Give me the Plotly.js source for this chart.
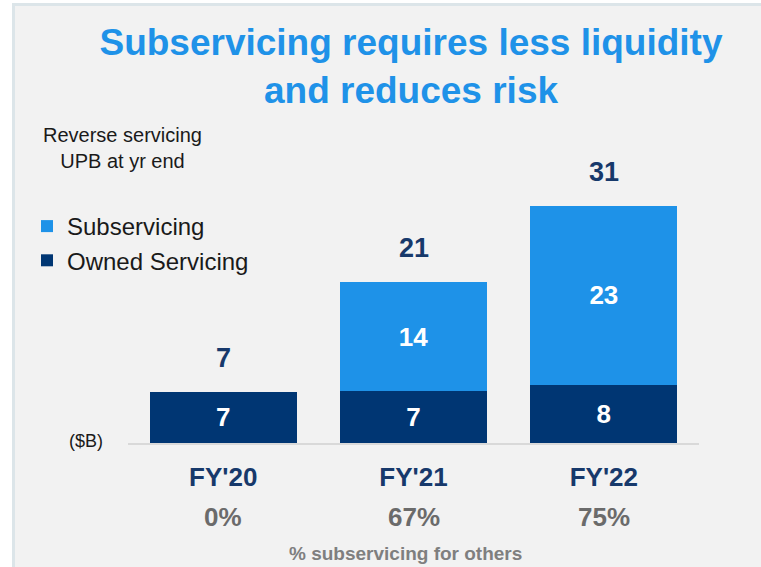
<!DOCTYPE html>
<html>
<head>
<meta charset="utf-8">
<script src="https://cdn.plot.ly/plotly-3.0.1.min.js"></script>
<style>html,body{margin:0;padding:0;background:#fff;}#chart{width:761px;height:567px;}</style>
</head>
<body>
<div id="chart"></div>
<script>
// ---- data ----
const years = ["FY'20", "FY'21", "FY'22"];
const owned = [6.7, 6.8, 7.6];          // Owned Servicing, $B
const subservicing = [0, 14.2, 23.4];   // Subservicing, $B
const pctLabels = ["0%", "67%", "75%"]; // % subservicing for others

const NAVY = '#003673';
const BLUE = '#1e92e8';
const LABEL_NAVY = '#17396b';
const FONT = 'Liberation Sans, Arial, sans-serif';

const totals = owned.map((v, i) => v + subservicing[i]);

const traces = [
  {
    type: 'bar', name: 'Owned Servicing', x: years, y: owned,
    marker: {color: NAVY},
    text: owned.map(v => v > 0 ? String(Math.round(v)) : ''),
    textposition: 'inside', insidetextanchor: 'middle',
    textfont: {family: FONT, size: 26, color: '#ffffff', weight: 'bold'},
    hoverinfo: 'none', legendrank: 2
  },
  {
    type: 'bar', name: 'Subservicing', x: years, y: subservicing,
    marker: {color: BLUE},
    text: subservicing.map(v => v > 0 ? String(Math.round(v)) : ''),
    textposition: 'inside', insidetextanchor: 'middle',
    textfont: {family: FONT, size: 26, color: '#ffffff', weight: 'bold'},
    hoverinfo: 'none', legendrank: 1
  }
];

const ML = 128, MR = 62, MT = 130, MB = 124;
const PH = 567 - MT - MB;
const PW = 761 - ML - MR;

const annotations = [];
years.forEach((yr, i) => {
  annotations.push({
    x: yr, y: totals[i], xref: 'x', yref: 'y', text: String(Math.round(totals[i])),
    showarrow: false, yanchor: 'middle', yshift: 34,
    font: {family: FONT, size: 27, color: LABEL_NAVY, weight: 'bold'}
  });
  annotations.push({
    x: yr, y: (443 - 517) / PH, xref: 'x', yref: 'paper', yanchor: 'middle',
    text: pctLabels[i], showarrow: false,
    font: {family: FONT, size: 26, color: '#6b6b6b', weight: 'bold'}
  });
});

annotations.push({
  text: 'Reverse servicing<br>UPB at yr end', xref: 'paper', yref: 'paper',
  x: (122 - ML) / PW, y: (443 - 148) / PH, xanchor: 'center', yanchor: 'middle',
  showarrow: false, align: 'center',
  font: {family: FONT, size: 20, color: '#1a1a1a'}
});
annotations.push({
  text: '($B)', xref: 'paper', yref: 'paper',
  x: (86 - ML) / PW, y: (443 - 441) / PH, xanchor: 'center', yanchor: 'middle',
  showarrow: false, font: {family: FONT, size: 18, color: '#1a1a1a'}
});
annotations.push({
  text: '% subservicing for others', xref: 'paper', yref: 'paper',
  x: (405 - ML) / PW, y: (443 - 553) / PH, xanchor: 'center', yanchor: 'middle',
  showarrow: false, font: {family: FONT, size: 19, color: '#7f7f7f', weight: 'bold'}
});

const layout = {
  width: 761, height: 567,
  margin: {l: ML, r: MR, t: MT, b: MB, pad: 0},
  paper_bgcolor: '#ffffff', plot_bgcolor: 'rgba(0,0,0,0)',
  barmode: 'stack', bargap: 0.228,
  title: {
    text: 'Subservicing requires less liquidity<br>and reduces risk',
    xref: 'container', yref: 'container', x: 411 / 761, xanchor: 'center',
    y: 1 - 55 / 567, yanchor: 'top',
    font: {family: FONT, size: 37, color: '#1f92e8', weight: 'bold'}
  },
  xaxis: {
    type: 'category', range: [-0.5, 2.5], fixedrange: true,
    showline: true, linecolor: '#d9d9d9', linewidth: 2, showgrid: false, zeroline: false,
    ticks: '', ticklabelstandoff: 10,
    tickfont: {family: FONT, size: 26, color: LABEL_NAVY, weight: 'bold'}
  },
  yaxis: {visible: false, range: [0, PH / 7.66], fixedrange: true},
  showlegend: true,
  legend: {
    x: (27 - ML) / PW, xanchor: 'left', y: (443 - 204) / PH, yanchor: 'top',
    traceorder: 'normal', tracegroupgap: 0,
    bgcolor: 'rgba(0,0,0,0)', borderwidth: 0,
    font: {family: FONT, size: 24, color: '#1a1a1a'}
  },
  shapes: [{
    type: 'rect', xref: 'paper', yref: 'paper', layer: 'below',
    x0: (13.5 - ML) / PW, x1: (820 - ML) / PW,
    y0: (443 - 620) / PH, y1: (443 - 4.5) / PH,
    fillcolor: '#f2f2f2', line: {color: '#dce5e9', width: 3}
  }],
  annotations: annotations
};

Plotly.newPlot('chart', traces, layout, {displayModeBar: false, staticPlot: true});
</script>
</body>
</html>
